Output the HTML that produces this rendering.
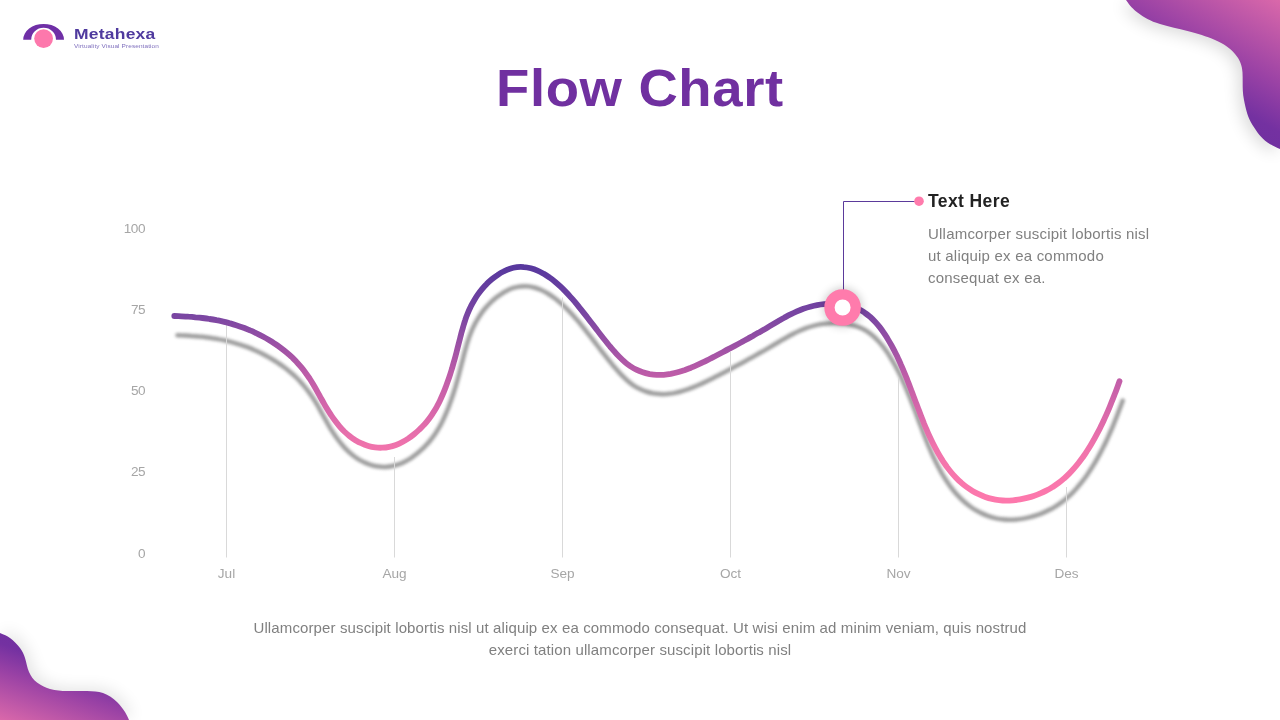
<!DOCTYPE html>
<html lang="en">
<head>
<meta charset="utf-8">
<title>Flow Chart</title>
<style>
  html, body { margin: 0; padding: 0; }
  body { width: 1280px; height: 720px; overflow: hidden; background: #ffffff; position: relative;
         font-family: "Liberation Sans", sans-serif; }
  svg.art { position: absolute; left: 0; top: 0; width: 1280px; height: 720px; }
  .abs { position: absolute; white-space: nowrap; }
  .brand { left: 74px; top: 24.2px; font-size: 14.8px; font-weight: bold; color: #4f3a9e; letter-spacing: 0.2px; line-height: 20px; transform: scaleX(1.18); transform-origin: 0 0; }
  .tagline { left: 74px; top: 41.8px; font-size: 5.8px; color: #7f6fbd; letter-spacing: 0.1px; line-height: 8px; transform: scaleX(1.11); transform-origin: 0 0; }
  .title { left: 496px; top: 56px; font-size: 52px; font-weight: bold; color: #7030a0; line-height: 64px; letter-spacing: 0.6px; transform: scaleX(1.048); transform-origin: 0 0; }
  .ylab { width: 40px; left: 105px; text-align: right; letter-spacing: -0.5px; font-size: 13.6px; color: #a6a6a6; line-height: 16px; }
  .xlab { width: 80px; text-align: center; font-size: 13.6px; color: #a6a6a6; line-height: 16px; top: 565.6px; }
  .calltitle { left: 928px; top: 190px; letter-spacing: 0.4px; font-size: 17.5px; font-weight: bold; color: #222222; line-height: 22px; }
  .calltext { left: 928px; top: 223px; letter-spacing: 0.21px; font-size: 15px; color: #808080; line-height: 22px; white-space: normal; width: 240px; }
  .foot { left: 140px; width: 1000px; top: 617px; letter-spacing: 0.12px; text-align: center; font-size: 15px; color: #808080; line-height: 21.5px; white-space: normal; }
</style>
</head>
<body>
<svg class="art" viewBox="0 0 1280 720">
  <defs>
    <linearGradient id="gTR" gradientUnits="userSpaceOnUse" x1="1280" y1="0" x2="1212.500" y2="116.900">
      <stop offset="0" stop-color="#da68aa"/>
      <stop offset="0.55" stop-color="#9a42a5"/>
      <stop offset="0.85" stop-color="#7431a1"/>
      <stop offset="1" stop-color="#7030a0"/>
    </linearGradient>
    <linearGradient id="gBL" gradientUnits="userSpaceOnUse" x1="0" y1="720" x2="27.800" y2="639.700">
      <stop offset="0" stop-color="#da68aa"/>
      <stop offset="0.55" stop-color="#9a42a5"/>
      <stop offset="0.85" stop-color="#7431a1"/>
      <stop offset="1" stop-color="#7030a0"/>
    </linearGradient>
    <linearGradient id="gLine" gradientUnits="userSpaceOnUse" x1="0" y1="267" x2="0" y2="500">
      <stop offset="0" stop-color="#58389e"/>
      <stop offset="0.21" stop-color="#7a46a2"/>
      <stop offset="0.464" stop-color="#be5ca8"/>
      <stop offset="0.773" stop-color="#f073ac"/>
      <stop offset="1" stop-color="#fd78ac"/>
    </linearGradient>
    <filter id="blobShadow" x="-20%" y="-20%" width="140%" height="140%">
      <feGaussianBlur stdDeviation="8"/>
    </filter>
    <filter id="lineShadow" x="-5%" y="-20%" width="110%" height="140%">
      <feGaussianBlur stdDeviation="1.6"/>
    </filter>
    <filter id="glow" x="-50%" y="-50%" width="200%" height="200%">
      <feGaussianBlur stdDeviation="5"/>
    </filter>
  </defs>

  <!-- top right blob -->
  <path id="blobTR" d="M1126,0 C1130,6 1133,9 1137.5,12.500 C1144,17.500 1150,21 1160,24 C1170,27 1178,28.500 1187.500,31 C1198,33.800 1206,36 1215,40 C1224,44 1230,48 1235,54 C1240,60 1242,65 1242.500,72.500 C1243,82 1242,90 1244,100 C1246,110 1248,118 1252.500,125 C1257,132 1261,138 1267.500,142.500 C1272,145.500 1276,147.500 1280,149 L1280,0 Z" fill="#000" opacity="0.14" filter="url(#blobShadow)" transform="translate(-4,4)"/>
  <path d="M1126,0 C1130,6 1133,9 1137.500,12.500 C1144,17.500 1150,21 1160,24 C1170,27 1178,28.500 1187.500,31 C1198,33.800 1206,36 1215,40 C1224,44 1230,48 1235,54 C1240,60 1242,65 1242.500,72.500 C1243,82 1242,90 1244,100 C1246,110 1248,118 1252.500,125 C1257,132 1261,138 1267.500,142.500 C1272,145.500 1276,147.500 1280,149 L1280,0 Z" fill="url(#gTR)"/>

  <!-- bottom left blob -->
  <path d="M0,633 C4,634.500 7,636 10,638 C14,641 17,644 20,648 C22.500,651.500 24,654.500 25,658 C26.500,663 27,667 29,672 C31,676.500 33,679.500 37,682.500 C41,685.500 45,687.500 50,689 C56,690.500 61,691 67,691 C74,691.200 80,690.800 87,691 C93,691.200 98,691.500 103,693 C108.500,695 113,698 117,702 C120,705 122.500,708 125,712 C126.500,714.500 128,717.500 129,720 L0,720 Z" fill="#000" opacity="0.1" filter="url(#blobShadow)" transform="translate(4,-3)"/>
  <path d="M0,633 C4,634.500 7,636 10,638 C14,641 17,644 20,648 C22.500,651.500 24,654.500 25,658 C26.500,663 27,667 29,672 C31,676.500 33,679.500 37,682.500 C41,685.500 45,687.500 50,689 C56,690.500 61,691 67,691 C74,691.200 80,690.800 87,691 C93,691.200 98,691.500 103,693 C108.500,695 113,698 117,702 C120,705 122.500,708 125,712 C126.500,714.500 128,717.500 129,720 L0,720 Z" fill="url(#gBL)"/>

  <!-- logo -->
  <path d="M23.200,39.700 A20.400,15.800 0 0 1 64,39.700 L56,39.700 A12.400,11.900 0 0 0 31.200,39.700 Z" fill="#6f2fa6"/>
  <circle cx="43.600" cy="38.600" r="9.400" fill="#fd78ac"/>

  <!-- curve shadow -->
  <path d="M174.3,316.0C175.5,316.0 179.0,316.2 181.4,316.3C183.7,316.4 186.1,316.5 188.4,316.7C190.8,316.8 193.1,317.0 195.4,317.3C197.8,317.5 200.1,317.7 202.5,318.0C204.8,318.3 207.1,318.6 209.5,319.0C211.8,319.3 214.1,319.7 216.4,320.2C218.7,320.6 221.0,321.1 223.3,321.6C225.6,322.2 227.9,322.7 230.2,323.4C232.4,324.0 234.7,324.7 236.9,325.4C239.2,326.1 241.4,326.9 243.6,327.7C245.8,328.6 248.0,329.4 250.1,330.4C252.3,331.3 254.4,332.3 256.6,333.3C258.7,334.3 260.8,335.4 262.8,336.5C264.9,337.6 267.0,338.8 269.0,340.0C271.0,341.2 273.0,342.5 274.9,343.8C276.9,345.1 278.8,346.4 280.7,347.8C282.6,349.2 284.5,350.7 286.3,352.2C288.1,353.7 289.9,355.2 291.6,356.8C293.3,358.5 295.0,360.1 296.6,361.9C298.2,363.6 299.7,365.4 301.2,367.2C302.7,369.0 304.1,370.8 305.5,372.7C306.9,374.6 308.3,376.6 309.6,378.5C310.9,380.5 312.1,382.5 313.3,384.5C314.5,386.5 315.7,388.6 316.8,390.6C318.0,392.7 319.1,394.8 320.2,396.8C321.4,398.9 322.5,401.0 323.7,403.0C324.8,405.1 326.0,407.1 327.2,409.1C328.4,411.1 329.7,413.1 331.0,415.0C332.3,417.0 333.7,418.9 335.1,420.8C336.5,422.7 338.0,424.5 339.5,426.3C341.0,428.1 342.6,429.8 344.3,431.5C346.0,433.1 347.8,434.7 349.6,436.1C351.5,437.6 353.4,438.9 355.4,440.2C357.4,441.4 359.5,442.5 361.7,443.4C363.8,444.4 366.0,445.2 368.3,445.9C370.5,446.6 372.9,447.1 375.2,447.4C377.5,447.7 379.9,447.8 382.2,447.7C384.6,447.6 386.9,447.3 389.2,446.8C391.5,446.4 393.8,445.7 396.0,444.9C398.2,444.1 400.4,443.1 402.4,442.0C404.5,440.9 406.5,439.7 408.5,438.4C410.4,437.1 412.3,435.6 414.2,434.1C416.0,432.7 417.7,431.1 419.4,429.5C421.2,427.9 422.8,426.2 424.4,424.4C426.0,422.7 427.5,420.9 428.9,419.0C430.3,417.1 431.7,415.2 432.9,413.2C434.2,411.2 435.4,409.2 436.6,407.2C437.7,405.1 438.8,403.0 439.8,400.9C440.8,398.8 441.8,396.6 442.7,394.5C443.7,392.3 444.5,390.1 445.4,387.9C446.2,385.7 447.0,383.5 447.8,381.3C448.6,379.1 449.4,376.8 450.1,374.6C450.8,372.4 451.5,370.1 452.2,367.9C452.8,365.6 453.5,363.3 454.1,361.1C454.8,358.8 455.4,356.5 456.0,354.3C456.6,352.0 457.1,349.7 457.7,347.4C458.3,345.1 458.9,342.9 459.5,340.6C460.1,338.3 460.6,336.0 461.2,333.7C461.8,331.5 462.5,329.2 463.1,326.9C463.8,324.7 464.4,322.4 465.2,320.2C465.9,318.0 466.7,315.7 467.6,313.6C468.5,311.4 469.4,309.2 470.5,307.1C471.5,305.0 472.6,302.9 473.8,300.9C475.0,298.9 476.2,296.9 477.6,294.9C478.9,293.0 480.3,291.1 481.8,289.3C483.3,287.5 484.9,285.7 486.6,284.1C488.2,282.4 490.0,280.8 491.8,279.3C493.6,277.8 495.5,276.4 497.5,275.1C499.4,273.8 501.4,272.5 503.5,271.5C505.6,270.4 507.8,269.4 510.0,268.7C512.2,268.0 514.6,267.5 516.9,267.2C519.2,266.9 521.6,266.9 523.9,267.1C526.3,267.2 528.6,267.7 530.9,268.3C533.1,268.9 535.4,269.7 537.5,270.6C539.7,271.5 541.8,272.7 543.8,273.8C545.8,275.0 547.8,276.3 549.7,277.7C551.6,279.0 553.5,280.5 555.3,282.0C557.1,283.5 558.9,285.1 560.6,286.7C562.3,288.3 564.0,290.0 565.6,291.6C567.3,293.3 568.9,295.1 570.4,296.8C572.0,298.6 573.5,300.3 575.1,302.1C576.6,303.9 578.1,305.8 579.5,307.6C581.0,309.4 582.5,311.3 583.9,313.1C585.4,315.0 586.8,316.8 588.3,318.7C589.7,320.6 591.1,322.4 592.6,324.3C594.0,326.2 595.4,328.0 596.9,329.9C598.3,331.8 599.7,333.6 601.2,335.5C602.6,337.3 604.1,339.2 605.6,341.0C607.0,342.8 608.5,344.7 610.0,346.5C611.6,348.3 613.1,350.1 614.7,351.8C616.2,353.6 617.8,355.3 619.5,357.0C621.1,358.6 622.8,360.3 624.6,361.8C626.4,363.4 628.3,364.8 630.2,366.1C632.2,367.4 634.2,368.6 636.3,369.6C638.4,370.7 640.6,371.6 642.8,372.3C645.1,373.1 647.4,373.6 649.7,374.1C652.0,374.5 654.3,374.8 656.7,374.9C659.0,375.0 661.4,374.9 663.7,374.8C666.1,374.6 668.4,374.3 670.7,373.9C673.1,373.4 675.4,372.9 677.6,372.3C679.9,371.7 682.1,370.9 684.4,370.2C686.6,369.4 688.8,368.6 691.0,367.7C693.1,366.8 695.3,365.8 697.4,364.9C699.6,363.9 701.7,362.9 703.8,361.9C705.9,360.8 708.0,359.8 710.1,358.7C712.2,357.6 714.3,356.6 716.4,355.5C718.5,354.4 720.6,353.3 722.7,352.2C724.8,351.1 726.9,350.0 728.9,348.9C731.0,347.8 733.1,346.7 735.2,345.6C737.2,344.5 739.3,343.4 741.4,342.3C743.5,341.1 745.5,340.0 747.6,338.9C749.6,337.7 751.7,336.6 753.7,335.4C755.8,334.3 757.8,333.1 759.9,331.9C761.9,330.8 764.0,329.6 766.0,328.4C768.0,327.2 770.0,326.0 772.1,324.8C774.1,323.6 776.1,322.4 778.1,321.2C780.2,320.0 782.2,318.8 784.3,317.7C786.3,316.6 788.4,315.4 790.5,314.4C792.6,313.3 794.7,312.3 796.9,311.3C799.0,310.4 801.2,309.5 803.4,308.7C805.6,308.0 807.9,307.3 810.2,306.7C812.4,306.1 814.7,305.5 817.1,305.1C819.4,304.7 821.7,304.4 824.1,304.2C826.4,304.0 828.8,303.9 831.1,303.9C833.5,303.9 835.8,303.9 838.2,304.1C840.5,304.3 842.9,304.6 845.2,305.0C847.5,305.4 849.8,306.0 852.0,306.7C854.3,307.4 856.5,308.2 858.6,309.2C860.7,310.2 862.8,311.4 864.7,312.7C866.7,314.0 868.5,315.5 870.3,317.0C872.1,318.6 873.7,320.3 875.3,322.0C876.9,323.7 878.4,325.5 879.9,327.4C881.3,329.2 882.7,331.2 884.0,333.1C885.3,335.1 886.6,337.0 887.8,339.1C889.0,341.1 890.2,343.1 891.4,345.2C892.5,347.2 893.6,349.3 894.7,351.4C895.7,353.5 896.8,355.6 897.8,357.7C898.8,359.9 899.8,362.0 900.7,364.2C901.7,366.3 902.6,368.5 903.5,370.6C904.4,372.8 905.3,375.0 906.2,377.2C907.1,379.3 907.9,381.5 908.8,383.7C909.6,385.9 910.5,388.1 911.3,390.3C912.2,392.5 913.0,394.7 913.8,396.9C914.6,399.1 915.5,401.3 916.3,403.5C917.1,405.7 918.0,407.9 918.8,410.1C919.6,412.3 920.5,414.5 921.3,416.7C922.2,418.9 923.1,421.1 923.9,423.3C924.8,425.5 925.7,427.7 926.7,429.8C927.6,432.0 928.5,434.1 929.5,436.3C930.5,438.4 931.5,440.5 932.5,442.6C933.6,444.8 934.7,446.9 935.8,448.9C936.9,451.0 938.0,453.1 939.2,455.1C940.4,457.1 941.7,459.1 942.9,461.1C944.2,463.1 945.6,465.0 946.9,466.9C948.3,468.8 949.8,470.7 951.3,472.5C952.8,474.3 954.4,476.0 956.0,477.7C957.6,479.4 959.3,481.1 961.1,482.6C962.9,484.2 964.7,485.6 966.6,487.0C968.5,488.4 970.5,489.7 972.5,490.9C974.5,492.1 976.6,493.2 978.7,494.2C980.8,495.2 983.0,496.2 985.2,496.9C987.4,497.7 989.7,498.4 992.0,498.9C994.3,499.5 996.6,499.9 999.0,500.1C1001.3,500.4 1003.6,500.6 1006.0,500.6C1008.3,500.6 1010.7,500.5 1013.0,500.3C1015.4,500.1 1017.7,499.8 1020.0,499.4C1022.4,499.0 1024.7,498.5 1026.9,497.9C1029.2,497.3 1031.5,496.7 1033.7,495.9C1035.9,495.2 1038.2,494.4 1040.3,493.4C1042.5,492.5 1044.6,491.5 1046.7,490.4C1048.8,489.4 1050.8,488.2 1052.8,486.9C1054.8,485.7 1056.7,484.3 1058.6,482.9C1060.5,481.5 1062.3,480.0 1064.1,478.4C1065.9,476.9 1067.6,475.2 1069.2,473.6C1070.9,471.9 1072.5,470.2 1074.0,468.4C1075.6,466.6 1077.1,464.8 1078.5,463.0C1080.0,461.1 1081.4,459.2 1082.8,457.3C1084.1,455.4 1085.5,453.5 1086.7,451.5C1088.0,449.5 1089.3,447.5 1090.5,445.5C1091.7,443.5 1092.9,441.5 1094.0,439.4C1095.2,437.4 1096.3,435.3 1097.4,433.2C1098.5,431.1 1099.6,429.0 1100.6,426.9C1101.7,424.8 1102.7,422.7 1103.7,420.5C1104.7,418.4 1105.6,416.3 1106.6,414.1C1107.5,412.0 1108.5,409.8 1109.4,407.6C1110.3,405.4 1111.2,403.3 1112.0,401.1C1112.9,398.9 1113.8,396.7 1114.6,394.5C1115.5,392.3 1116.3,390.1 1117.1,387.9C1117.9,385.7 1119.1,382.4 1119.5,381.3" fill="none" stroke="#6e6e6e" stroke-width="4.500" stroke-linecap="round" filter="url(#lineShadow)" transform="translate(3.200,19.200)" opacity="0.68"/>
  <!-- grid lines -->
  <g stroke="#d9d9d9" stroke-width="1">
    <line x1="226.500" y1="325" x2="226.500" y2="557.500"/>
    <line x1="394.500" y1="457" x2="394.500" y2="557.500"/>
    <line x1="562.500" y1="297.500" x2="562.500" y2="557.500"/>
    <line x1="730.500" y1="352" x2="730.500" y2="557.500"/>
    <line x1="898.500" y1="378" x2="898.500" y2="557.500"/>
    <line x1="1066.500" y1="487" x2="1066.500" y2="557.500"/>
  </g>
  <!-- curve -->
  <path d="M174.3,316.0C175.5,316.0 179.0,316.2 181.4,316.3C183.7,316.4 186.1,316.5 188.4,316.7C190.8,316.8 193.1,317.0 195.4,317.3C197.8,317.5 200.1,317.7 202.5,318.0C204.8,318.3 207.1,318.6 209.5,319.0C211.8,319.3 214.1,319.7 216.4,320.2C218.7,320.6 221.0,321.1 223.3,321.6C225.6,322.2 227.9,322.7 230.2,323.4C232.4,324.0 234.7,324.7 236.9,325.4C239.2,326.1 241.4,326.9 243.6,327.7C245.8,328.6 248.0,329.4 250.1,330.4C252.3,331.3 254.4,332.3 256.6,333.3C258.7,334.3 260.8,335.4 262.8,336.5C264.9,337.6 267.0,338.8 269.0,340.0C271.0,341.2 273.0,342.5 274.9,343.8C276.9,345.1 278.8,346.4 280.7,347.8C282.6,349.2 284.5,350.7 286.3,352.2C288.1,353.7 289.9,355.2 291.6,356.8C293.3,358.5 295.0,360.1 296.6,361.9C298.2,363.6 299.7,365.4 301.2,367.2C302.7,369.0 304.1,370.8 305.5,372.7C306.9,374.6 308.3,376.6 309.6,378.5C310.9,380.5 312.1,382.5 313.3,384.5C314.5,386.5 315.7,388.6 316.8,390.6C318.0,392.7 319.1,394.8 320.2,396.8C321.4,398.9 322.5,401.0 323.7,403.0C324.8,405.1 326.0,407.1 327.2,409.1C328.4,411.1 329.7,413.1 331.0,415.0C332.3,417.0 333.7,418.9 335.1,420.8C336.5,422.7 338.0,424.5 339.5,426.3C341.0,428.1 342.6,429.8 344.3,431.5C346.0,433.1 347.8,434.7 349.6,436.1C351.5,437.6 353.4,438.9 355.4,440.2C357.4,441.4 359.5,442.5 361.7,443.4C363.8,444.4 366.0,445.2 368.3,445.9C370.5,446.6 372.9,447.1 375.2,447.4C377.5,447.7 379.9,447.8 382.2,447.7C384.6,447.6 386.9,447.3 389.2,446.8C391.5,446.4 393.8,445.7 396.0,444.9C398.2,444.1 400.4,443.1 402.4,442.0C404.5,440.9 406.5,439.7 408.5,438.4C410.4,437.1 412.3,435.6 414.2,434.1C416.0,432.7 417.7,431.1 419.4,429.5C421.2,427.9 422.8,426.2 424.4,424.4C426.0,422.7 427.5,420.9 428.9,419.0C430.3,417.1 431.7,415.2 432.9,413.2C434.2,411.2 435.4,409.2 436.6,407.2C437.7,405.1 438.8,403.0 439.8,400.9C440.8,398.8 441.8,396.6 442.7,394.5C443.7,392.3 444.5,390.1 445.4,387.9C446.2,385.7 447.0,383.5 447.8,381.3C448.6,379.1 449.4,376.8 450.1,374.6C450.8,372.4 451.5,370.1 452.2,367.9C452.8,365.6 453.5,363.3 454.1,361.1C454.8,358.8 455.4,356.5 456.0,354.3C456.6,352.0 457.1,349.7 457.7,347.4C458.3,345.1 458.9,342.9 459.5,340.6C460.1,338.3 460.6,336.0 461.2,333.7C461.8,331.5 462.5,329.2 463.1,326.9C463.8,324.7 464.4,322.4 465.2,320.2C465.9,318.0 466.7,315.7 467.6,313.6C468.5,311.4 469.4,309.2 470.5,307.1C471.5,305.0 472.6,302.9 473.8,300.9C475.0,298.9 476.2,296.9 477.6,294.9C478.9,293.0 480.3,291.1 481.8,289.3C483.3,287.5 484.9,285.7 486.6,284.1C488.2,282.4 490.0,280.8 491.8,279.3C493.6,277.8 495.5,276.4 497.5,275.1C499.4,273.8 501.4,272.5 503.5,271.5C505.6,270.4 507.8,269.4 510.0,268.7C512.2,268.0 514.6,267.5 516.9,267.2C519.2,266.9 521.6,266.9 523.9,267.1C526.3,267.2 528.6,267.7 530.9,268.3C533.1,268.9 535.4,269.7 537.5,270.6C539.7,271.5 541.8,272.7 543.8,273.8C545.8,275.0 547.8,276.3 549.7,277.7C551.6,279.0 553.5,280.5 555.3,282.0C557.1,283.5 558.9,285.1 560.6,286.7C562.3,288.3 564.0,290.0 565.6,291.6C567.3,293.3 568.9,295.1 570.4,296.8C572.0,298.6 573.5,300.3 575.1,302.1C576.6,303.9 578.1,305.8 579.5,307.6C581.0,309.4 582.5,311.3 583.9,313.1C585.4,315.0 586.8,316.8 588.3,318.7C589.7,320.6 591.1,322.4 592.6,324.3C594.0,326.2 595.4,328.0 596.9,329.9C598.3,331.8 599.7,333.6 601.2,335.5C602.6,337.3 604.1,339.2 605.6,341.0C607.0,342.8 608.5,344.7 610.0,346.5C611.6,348.3 613.1,350.1 614.7,351.8C616.2,353.6 617.8,355.3 619.5,357.0C621.1,358.6 622.8,360.3 624.6,361.8C626.4,363.4 628.3,364.8 630.2,366.1C632.2,367.4 634.2,368.6 636.3,369.6C638.4,370.7 640.6,371.6 642.8,372.3C645.1,373.1 647.4,373.6 649.7,374.1C652.0,374.5 654.3,374.8 656.7,374.9C659.0,375.0 661.4,374.9 663.7,374.8C666.1,374.6 668.4,374.3 670.7,373.9C673.1,373.4 675.4,372.9 677.6,372.3C679.9,371.7 682.1,370.9 684.4,370.2C686.6,369.4 688.8,368.6 691.0,367.7C693.1,366.8 695.3,365.8 697.4,364.9C699.6,363.9 701.7,362.9 703.8,361.9C705.9,360.8 708.0,359.8 710.1,358.7C712.2,357.6 714.3,356.6 716.4,355.5C718.5,354.4 720.6,353.3 722.7,352.2C724.8,351.1 726.9,350.0 728.9,348.9C731.0,347.8 733.1,346.7 735.2,345.6C737.2,344.5 739.3,343.4 741.4,342.3C743.5,341.1 745.5,340.0 747.6,338.9C749.6,337.7 751.7,336.6 753.7,335.4C755.8,334.3 757.8,333.1 759.9,331.9C761.9,330.8 764.0,329.6 766.0,328.4C768.0,327.2 770.0,326.0 772.1,324.8C774.1,323.6 776.1,322.4 778.1,321.2C780.2,320.0 782.2,318.8 784.3,317.7C786.3,316.6 788.4,315.4 790.5,314.4C792.6,313.3 794.7,312.3 796.9,311.3C799.0,310.4 801.2,309.5 803.4,308.7C805.6,308.0 807.9,307.3 810.2,306.7C812.4,306.1 814.7,305.5 817.1,305.1C819.4,304.7 821.7,304.4 824.1,304.2C826.4,304.0 828.8,303.9 831.1,303.9C833.5,303.9 835.8,303.9 838.2,304.1C840.5,304.3 842.9,304.6 845.2,305.0C847.5,305.4 849.8,306.0 852.0,306.7C854.3,307.4 856.5,308.2 858.6,309.2C860.7,310.2 862.8,311.4 864.7,312.7C866.7,314.0 868.5,315.5 870.3,317.0C872.1,318.6 873.7,320.3 875.3,322.0C876.9,323.7 878.4,325.5 879.9,327.4C881.3,329.2 882.7,331.2 884.0,333.1C885.3,335.1 886.6,337.0 887.8,339.1C889.0,341.1 890.2,343.1 891.4,345.2C892.5,347.2 893.6,349.3 894.7,351.4C895.7,353.5 896.8,355.6 897.8,357.7C898.8,359.9 899.8,362.0 900.7,364.2C901.7,366.3 902.6,368.5 903.5,370.6C904.4,372.8 905.3,375.0 906.2,377.2C907.1,379.3 907.9,381.5 908.8,383.7C909.6,385.9 910.5,388.1 911.3,390.3C912.2,392.5 913.0,394.7 913.8,396.9C914.6,399.1 915.5,401.3 916.3,403.5C917.1,405.7 918.0,407.9 918.8,410.1C919.6,412.3 920.5,414.5 921.3,416.7C922.2,418.9 923.1,421.1 923.9,423.3C924.8,425.5 925.7,427.7 926.7,429.8C927.6,432.0 928.5,434.1 929.5,436.3C930.5,438.4 931.5,440.5 932.5,442.6C933.6,444.8 934.7,446.9 935.8,448.9C936.9,451.0 938.0,453.1 939.2,455.1C940.4,457.1 941.7,459.1 942.9,461.1C944.2,463.1 945.6,465.0 946.9,466.9C948.3,468.8 949.8,470.7 951.3,472.5C952.8,474.3 954.4,476.0 956.0,477.7C957.6,479.4 959.3,481.1 961.1,482.6C962.9,484.2 964.7,485.6 966.6,487.0C968.5,488.4 970.5,489.7 972.5,490.9C974.5,492.1 976.6,493.2 978.7,494.2C980.8,495.2 983.0,496.2 985.2,496.9C987.4,497.7 989.7,498.4 992.0,498.9C994.3,499.5 996.6,499.9 999.0,500.1C1001.3,500.4 1003.6,500.6 1006.0,500.6C1008.3,500.6 1010.7,500.5 1013.0,500.3C1015.4,500.1 1017.7,499.8 1020.0,499.4C1022.4,499.0 1024.7,498.5 1026.9,497.9C1029.2,497.3 1031.5,496.7 1033.7,495.9C1035.9,495.2 1038.2,494.4 1040.3,493.4C1042.5,492.5 1044.6,491.5 1046.7,490.4C1048.8,489.4 1050.8,488.2 1052.8,486.9C1054.8,485.7 1056.7,484.3 1058.6,482.9C1060.5,481.5 1062.3,480.0 1064.1,478.4C1065.9,476.9 1067.6,475.2 1069.2,473.6C1070.9,471.9 1072.5,470.2 1074.0,468.4C1075.6,466.6 1077.1,464.8 1078.5,463.0C1080.0,461.1 1081.4,459.2 1082.8,457.3C1084.1,455.4 1085.5,453.5 1086.7,451.5C1088.0,449.5 1089.3,447.5 1090.5,445.5C1091.7,443.5 1092.9,441.5 1094.0,439.4C1095.2,437.4 1096.3,435.3 1097.4,433.2C1098.5,431.1 1099.6,429.0 1100.6,426.9C1101.7,424.8 1102.7,422.7 1103.7,420.5C1104.7,418.4 1105.6,416.3 1106.6,414.1C1107.5,412.0 1108.5,409.8 1109.4,407.6C1110.3,405.4 1111.2,403.3 1112.0,401.1C1112.9,398.9 1113.8,396.7 1114.6,394.5C1115.5,392.3 1116.3,390.1 1117.1,387.9C1117.9,385.7 1119.1,382.4 1119.5,381.3" fill="none" stroke="url(#gLine)" stroke-width="5.800" stroke-linecap="round" stroke-linejoin="round"/>

  <!-- callout -->
  <path d="M843.500,300 L843.500,201.500 L918,201.500" fill="none" stroke="#5b3a9b" stroke-width="1"/>
  <circle cx="919" cy="201.200" r="4.800" fill="#ff7bac"/>
  <circle cx="842.700" cy="307.500" r="19" fill="#000" opacity="0.22" filter="url(#glow)"/>
  <circle cx="842.600" cy="307.500" r="13.150" fill="#ffffff" stroke="#ff7bac" stroke-width="10.300"/>
</svg>

<div class="abs brand">Metahexa</div>
<div class="abs tagline">Virtuality Visual Presentation</div>
<div class="abs title">Flow Chart</div>

<div class="abs ylab" style="top:220.6px">100</div>
<div class="abs ylab" style="top:301.8px">75</div>
<div class="abs ylab" style="top:383px">50</div>
<div class="abs ylab" style="top:464.2px">25</div>
<div class="abs ylab" style="top:545.6px">0</div>

<div class="abs xlab" style="left:186.500px">Jul</div>
<div class="abs xlab" style="left:354.500px">Aug</div>
<div class="abs xlab" style="left:522.500px">Sep</div>
<div class="abs xlab" style="left:690.500px">Oct</div>
<div class="abs xlab" style="left:858.500px">Nov</div>
<div class="abs xlab" style="left:1026.500px">Des</div>

<div class="abs calltitle">Text Here</div>
<div class="abs calltext">Ullamcorper suscipit lobortis nisl<br>ut aliquip ex ea commodo<br>consequat ex ea.</div>

<div class="abs foot">Ullamcorper suscipit lobortis nisl ut aliquip ex ea commodo consequat. Ut wisi enim ad minim veniam, quis nostrud<br>exerci tation ullamcorper suscipit lobortis nisl</div>
</body>
</html>
